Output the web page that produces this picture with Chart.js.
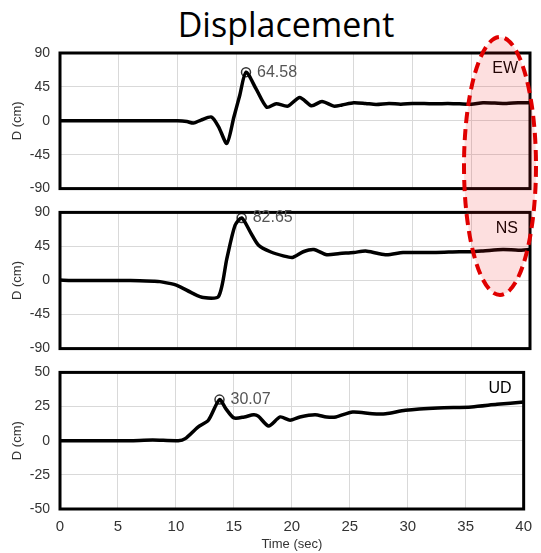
<!DOCTYPE html>
<html>
<head>
<meta charset="utf-8">
<script src="https://cdn.jsdelivr.net/npm/chart.js@4.4.0/dist/chart.umd.min.js"></script>
<style>
  body { margin:0; background:#fff; width:541px; height:553px; position:relative; overflow:hidden; }
  canvas { position:absolute; left:0; }
  #title { position:absolute; top:4px; left:0; width:572px; text-align:center; font:34px/40px "Open Sans", Lato, sans-serif; color:#000; }
  svg { position:absolute; left:0; top:0; pointer-events:none; }
</style>
</head>
<body>
<div id="title">Displacement</div>
<canvas id="ew" width="541" height="207" style="top:0"></canvas>
<canvas id="ns" width="541" height="173" style="top:194px"></canvas>
<canvas id="ud" width="541" height="199" style="top:354px"></canvas>
<svg width="541" height="553">
  <ellipse cx="500" cy="166" rx="36" ry="129" fill="rgba(240,30,30,0.14)" stroke="#e00000" stroke-width="4" stroke-dasharray="11 6"/>
</svg>
<script>
// time (sec) and displacement (cm)
var ewTime = [0,2,4,6,8,10,10.8,11.35,12,12.9,13.5,14.2,14.8,15.3,15.83,16.7,17.6,18.4,19.4,20.4,21.4,22.3,23.3,24,25,26,26.9,28,29,30,31,32,33,34,35,36,37,38,39,40];
var ewDisp = [0,0,0,0,0,0,-1,-3,1,5,-8,-30,5,34,64.58,42,18,22.6,19.5,31,20,25.6,19.5,21,24,23,21.7,23,22,23,23,22.5,23,22.5,22,24,23.5,23,24,24];

var nsTime = [0,1,2,4,6,8,8.5,9.9,11.3,12.2,13.5,14.2,14.9,15.46,16.2,16.9,17.9,19,19.8,20.7,21.6,22.7,23.8,25,26,27,27.8,29.2,30,32,34,35,36,37.7,39,40];
var nsDisp = [0.5,0,0,0,0,-1,-1.5,-6,-17,-22.6,-21,29,73,82.65,64,46.6,38,32.6,30.5,38,41,34,35.7,37,39,36,34,37,37,37,38,38,39,41,40,41];

var udTime = [0,2,4,6,8,10.2,10.8,11.9,12.8,13.76,14.3,15,15.9,16.7,17.1,18,19,19.85,20.7,22,23,23.8,25.25,26.95,28.1,29.8,32.6,35.5,37.7,40];
var udDisp = [0,0,0,0,0.5,0,1.5,10,15,30.07,23.5,16.7,17.4,19,18,10.8,17.4,15,17.4,19,17.4,17.4,21,19.8,19.8,22.3,24,24.7,26.6,28.3];

var xTicks = [0,5,10,15,20,25,30,35,40];

var yFont = {family:'"Liberation Sans", Arial, sans-serif', size:14};
var xFont = {family:'"Liberation Sans Narrow", "Liberation Sans", Arial, sans-serif', size:15};

// frame, component name and peak value
var panelDeco = {
  id:'panelDeco',
  afterDraw: function(chart, args, opts) {
    var ctx = chart.ctx, a = chart.chartArea;
    var xs = chart.scales.x, ys = chart.scales.y;
    ctx.save();
    ctx.lineWidth = 3;
    ctx.strokeStyle = '#000';
    ctx.strokeRect(a.left, a.top, a.right - a.left, a.bottom - a.top);
    ctx.fillStyle = '#000';
    ctx.font = '16px "Liberation Sans", Arial, sans-serif';
    ctx.textAlign = 'right';
    ctx.textBaseline = 'middle';
    ctx.fillText(opts.name, a.right - 12, a.top + 16);
    ctx.fillStyle = '#555';
    ctx.textAlign = 'left';
    ctx.fillText(opts.peakV.toFixed(2), xs.getPixelForValue(opts.peakT) + 11, ys.getPixelForValue(opts.peakV));
    ctx.restore();
  }
};

function makePanel(id, time, disp, peakT, peakV, name, yMin, yMax, yStep, bottom) {
  var pts = time.map(function(t, i) { return {x:t, y:disp[i]}; });
  return new Chart(document.getElementById(id), {
    type:'line',
    data:{
      datasets:[{
        data:pts,
        borderColor:'#000',
        borderWidth:3.5,
        pointRadius:0,
        tension:0.25,
        fill:false
      }, {
        data:[{x:peakT, y:peakV}],
        showLine:false,
        pointRadius:4.5,
        pointBorderWidth:1.5,
        pointBorderColor:'#333',
        pointBackgroundColor:'rgba(255,255,255,0.7)'
      }]
    },
    options:{
      responsive:false,
      animation:false,
      layout:{padding:{top:id == 'ew' ? 53 : 18, bottom:0, right:11, left:0}},
      plugins:{legend:{display:false}, tooltip:{enabled:false},
        panelDeco:{name:name, peakT:peakT, peakV:peakV}},
      scales:{
        x:{
          type:'linear', min:0, max:40,
          afterBuildTicks: function(s) { s.ticks = xTicks.map(function(v) { return {value:v}; }); },
          grid:{color:'#d9d9d9', drawTicks:false},
          border:{display:false},
          ticks:{display:bottom, padding:9, color:'#333', font:xFont},
          title:{display:bottom, text:'Time (sec)', color:'#333', font:{family:yFont.family, size:13}, padding:{top:0, bottom:1}},
          afterFit: function(s) { s.height = bottom ? 44 : 0; }
        },
        y:{
          min:yMin, max:yMax,
          ticks:{stepSize:yStep, padding:10, color:'#333', font:yFont},
          grid:{color:'#d9d9d9', drawTicks:false},
          border:{display:false},
          title:{display:true, text:'D (cm)', color:'#333', font:{family:yFont.family, size:13}, padding:{top:10, bottom:0}},
          afterFit: function(s) { s.width = 60; }
        }
      }
    },
    plugins:[panelDeco]
  });
}

makePanel('ew', ewTime, ewDisp, 15.83, 64.58, 'EW', -90, 90, 45, false);
makePanel('ns', nsTime, nsDisp, 15.46, 82.65, 'NS', -90, 90, 45, false);
makePanel('ud', udTime, udDisp, 13.76, 30.07, 'UD', -50, 50, 25, true);
</script>
</body>
</html>
